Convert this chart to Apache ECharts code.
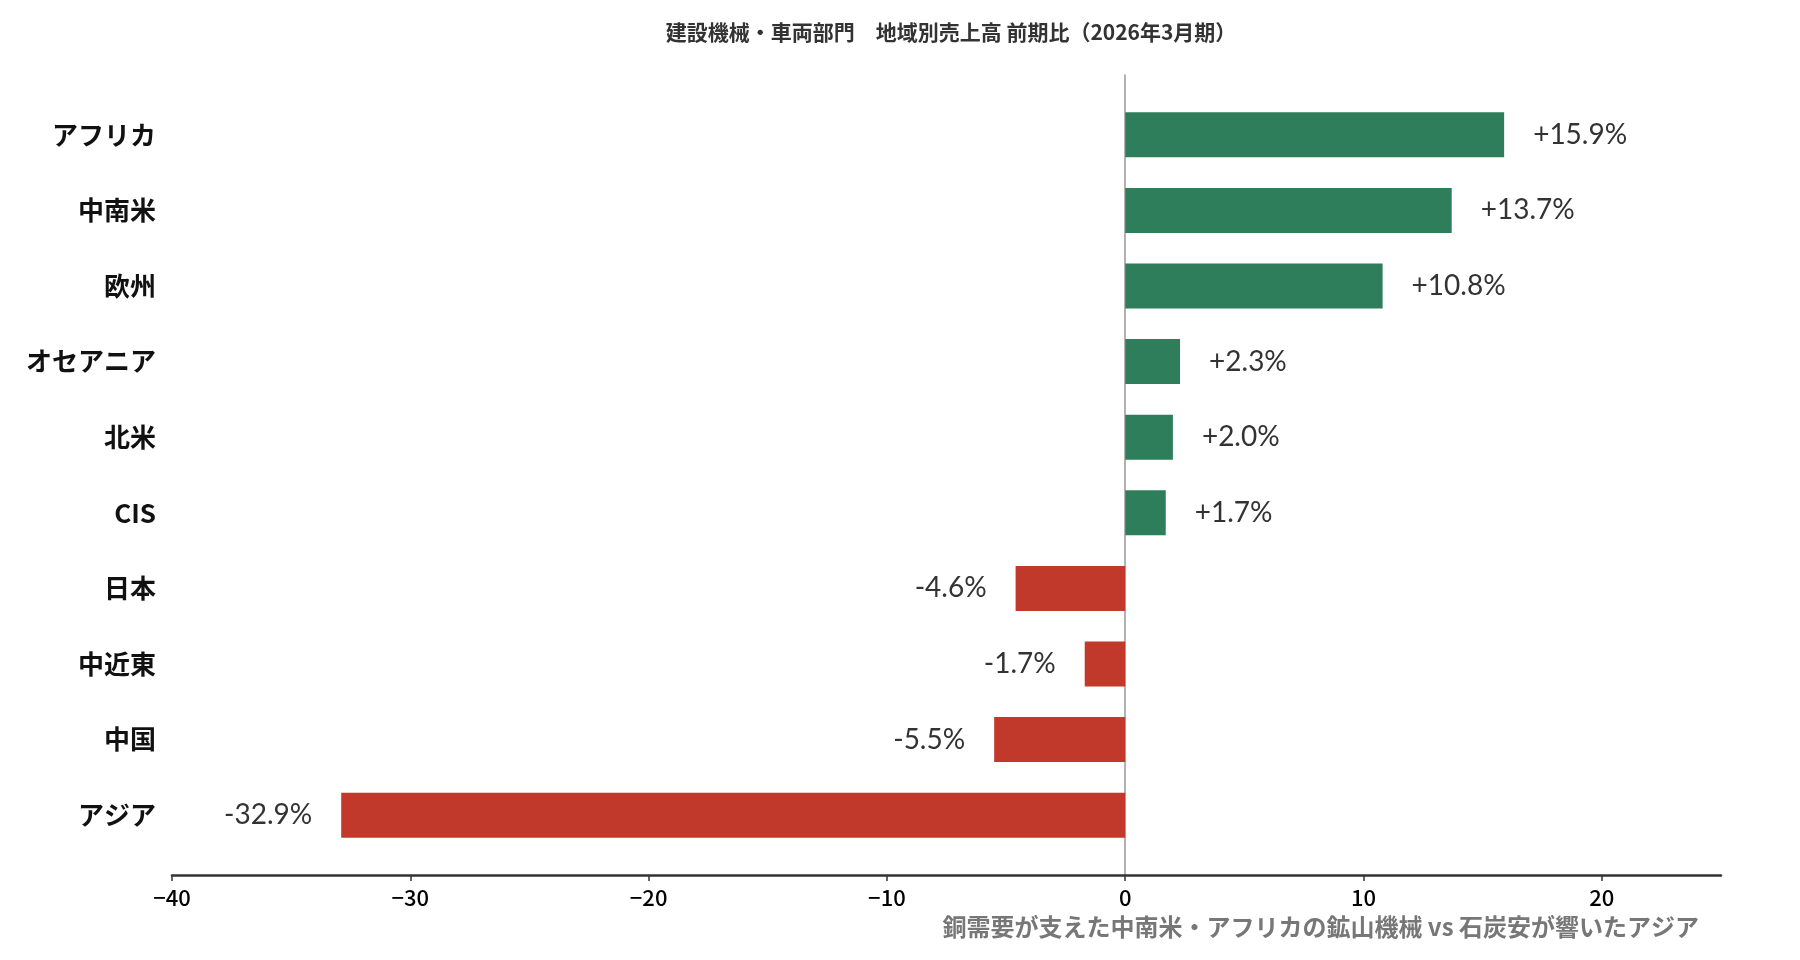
<!DOCTYPE html>
<html>
<head>
<meta charset="utf-8">
<script src="https://cdn.jsdelivr.net/npm/echarts@6/dist/echarts.min.js"></script>
<style>
html,body{margin:0;padding:0;background:#fff;}
#chart{width:1800px;height:960px;}
</style>
</head>
<body>
<div id="chart"></div>
<script>
const titleText = '建設機械・車両部門　地域別売上高 前期比（2026年3月期）';
const noteText = '銅需要が支えた中南米・アフリカの鉱山機械 vs 石炭安が響いたアジア';
const categories = ['アフリカ', '中南米', '欧州', 'オセアニア', '北米', 'CIS', '日本', '中近東', '中国', 'アジア'];
const values = [15.9, 13.7, 10.8, 2.3, 2.0, 1.7, -4.6, -1.7, -5.5, -32.9];
const xMin = -40, xMax = 25, xInterval = 10;

const POS = '#2e7d5b', NEG = '#c0392b';
const CJK = '"Noto Sans CJK JP", "Noto Sans", sans-serif';

const barData = values.map(v => ({
  value: v,
  itemStyle: { color: v >= 0 ? POS : NEG },
  label: { position: v >= 0 ? 'right' : 'left' }
}));

const chart = echarts.init(document.getElementById('chart'), null, { renderer: 'canvas' });
chart.setOption({
  backgroundColor: '#ffffff',
  animation: false,
  title: [
    {
      text: titleText,
      left: 946, textAlign: 'center', top: 17,
      textStyle: { fontFamily: CJK, fontSize: 21, fontWeight: 'bold', color: '#333' }
    },
    {
      text: noteText,
      right: 96, top: 910,
      textStyle: { fontFamily: CJK, fontSize: 24, fontWeight: 'bold', color: '#777' }
    }
  ],
  grid: [
    { left: 172, right: 79, top: 97, bottom: 107, containLabel: false },
    { left: 172, right: 79, top: 75, bottom: 85, containLabel: false }
  ],
  xAxis: [
    { gridIndex: 0, type: 'value', min: xMin, max: xMax, interval: xInterval, show: false, splitLine: { show: false } },
    {
      gridIndex: 1, type: 'value', min: xMin, max: xMax, interval: xInterval,
      axisLine: { show: true, onZero: false, lineStyle: { color: '#333', width: 2.5 } },
      axisTick: { show: true, length: 6, lineStyle: { color: '#333', width: 1.5 } },
      splitLine: { show: false },
      axisLabel: {
        margin: 12, fontFamily: CJK, fontSize: 22, fontWeight: 500, color: '#000', showMaxLabel: false,
        formatter: v => v < 0 ? '\u2212' + Math.abs(v) : String(v)
      }
    }
  ],
  yAxis: [
    {
      gridIndex: 0, type: 'category', data: categories, inverse: true,
      axisLine: { show: false }, axisTick: { show: false }, splitLine: { show: false },
      axisLabel: { margin: 16, fontFamily: CJK, fontSize: 26, fontWeight: 'bold', color: '#111' }
    },
    {
      gridIndex: 1, type: 'value', min: 0, max: 1,
      axisLine: { show: true, onZero: true, lineStyle: { color: '#999', width: 1.5 } },
      axisTick: { show: false }, axisLabel: { show: false }, splitLine: { show: false }
    }
  ],
  series: [
    {
      type: 'bar', xAxisIndex: 0, yAxisIndex: 0,
      data: barData, barWidth: 45,
      label: {
        show: true, distance: 29,
        fontFamily: 'Lato, "Noto Sans", sans-serif', fontSize: 28, color: '#333',
        formatter: p => (p.value > 0 ? '+' : '') + p.value.toFixed(1) + '%'
      },
      z: 1
    }
  ]
});
</script>
</body>
</html>
